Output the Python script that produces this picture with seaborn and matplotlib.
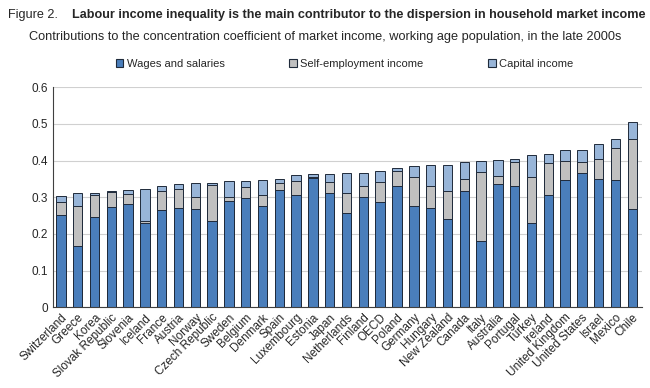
import numpy as np
import pandas as pd
import matplotlib
matplotlib.use('Agg')
import matplotlib.pyplot as plt
import seaborn as sns
from matplotlib.patches import Patch

# Contributions to the concentration coefficient of market income
countries = ['Switzerland', 'Greece', 'Korea', 'Slovak Republic', 'Slovenia', 'Iceland',
             'France', 'Austria', 'Norway', 'Czech Republic', 'Sweden', 'Belgium',
             'Denmark', 'Spain', 'Luxembourg', 'Estonia', 'Japan', 'Netherlands',
             'Finland', 'OECD', 'Poland', 'Germany', 'Hungary', 'New Zealand',
             'Canada', 'Italy', 'Australia', 'Portugal', 'Turkey', 'Ireland',
             'United Kingdom', 'United States', 'Israel', 'Mexico', 'Chile']
wages = [0.251, 0.168, 0.247, 0.273, 0.283, 0.231, 0.266, 0.271, 0.268, 0.234, 0.291, 0.299,
         0.276, 0.319, 0.305, 0.353, 0.313, 0.256, 0.302, 0.286, 0.331, 0.275, 0.270, 0.240,
         0.318, 0.182, 0.337, 0.332, 0.231, 0.305, 0.346, 0.367, 0.350, 0.346, 0.268]
self_emp = [0.036, 0.107, 0.058, 0.041, 0.027, 0.003, 0.051, 0.052, 0.033, 0.099, 0.010, 0.029,
            0.030, 0.020, 0.040, 0.002, 0.030, 0.057, 0.028, 0.057, 0.041, 0.081, 0.061, 0.076,
            0.033, 0.186, 0.020, 0.063, 0.125, 0.088, 0.052, 0.028, 0.054, 0.088, 0.192]
capital = [0.017, 0.036, 0.006, 0.002, 0.011, 0.089, 0.015, 0.014, 0.038, 0.006, 0.043, 0.017,
           0.040, 0.012, 0.015, 0.008, 0.020, 0.052, 0.035, 0.030, 0.007, 0.028, 0.056, 0.073,
           0.045, 0.032, 0.046, 0.010, 0.058, 0.025, 0.030, 0.035, 0.041, 0.026, 0.046]
yticks = [0, 0.1, 0.2, 0.3, 0.4, 0.5, 0.6]
ytick_labels = ['0', '0.1', '0.2', '0.3', '0.4', '0.5', '0.6']

series = ['Wages and salaries', 'Self-employment income', 'Capital income']
colors = ['#4a7ebb', '#c0c0c0', '#98b5d8']
edge = '#1f2a3a'

df = pd.DataFrame({'country': countries, 'wages': wages,
                   'self': self_emp, 'capital': capital})
df['lvl1'] = df['wages']
df['lvl2'] = df['wages'] + df['self']
df['lvl3'] = df['lvl2'] + df['capital']

sns.set_style('white')
plt.rcParams['font.family'] = ['Liberation Sans', 'DejaVu Sans']

fig = plt.figure(figsize=(6.5, 3.88), dpi=100)
ax = fig.add_axes([0.082, 0.208, 0.905, 0.567])

# stacked bars: draw cumulative totals back to front
for col, c in zip(['lvl3', 'lvl2', 'lvl1'], colors[::-1]):
    sns.barplot(data=df, x='country', y=col, order=countries, color=c,
                edgecolor=edge, linewidth=0.7, width=0.56, saturation=1, ax=ax)

ax.set_ylim(0, 0.6)
ax.set_xlim(-0.45, len(countries) - 0.45)
ax.set_yticks(yticks)
ax.set_yticklabels(ytick_labels, fontsize=8.5)
ax.yaxis.grid(True, color='#d0d0d0', linewidth=0.8)
ax.set_axisbelow(True)
ax.set_xlabel('')
ax.set_ylabel('')

ax.set_xticks(range(len(countries)))
ax.set_xticklabels(countries, rotation=45, ha='right', rotation_mode='anchor', fontsize=8.5)
ax.tick_params(axis='x', which='major', length=0, pad=3)
ax.set_xticks(np.arange(len(countries)) + 0.5, minor=True)
ax.tick_params(axis='x', which='minor', length=3, color='#404040', width=0.8)
ax.tick_params(axis='y', length=0, pad=4)

for s in ['top', 'right']:
    ax.spines[s].set_visible(False)
for s in ['left', 'bottom']:
    ax.spines[s].set_color('#404040')
    ax.spines[s].set_linewidth(0.8)

fig.text(0.012, 0.962, 'Figure 2.', fontsize=9.1, va='center')
fig.text(0.111, 0.962, 'Labour income inequality is the main contributor to the dispersion in household market income',
         fontsize=9.1, fontweight='bold', va='center')
fig.text(0.5, 0.905, 'Contributions to the concentration coefficient of market income, working age population, in the late 2000s',
         fontsize=9.15, ha='center', va='center')

handles = [Patch(facecolor=c, edgecolor=edge, linewidth=0.8) for c in colors]
fig.legend(handles, series, loc='center', bbox_to_anchor=(0.53, 0.835), ncol=3,
           frameon=False, fontsize=8, handlelength=0.7, handleheight=0.7,
           handletextpad=0.3, columnspacing=5.8)

fig.savefig('out.png', dpi=100)
